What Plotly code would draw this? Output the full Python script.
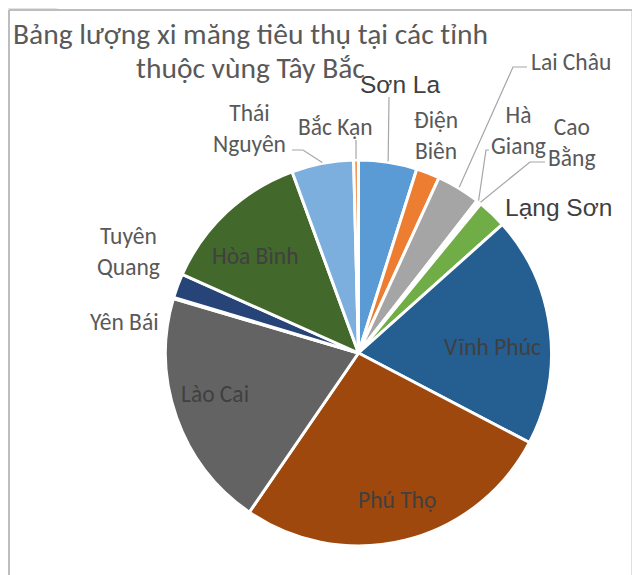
import math
import plotly.graph_objects as go

# data (clockwise from 12 o'clock)
provinces = ["Sơn La", "Điện Biên", "Lai Châu", "Hà Giang", "Cao Bằng", "Lạng Sơn",
             "Vĩnh Phúc", "Phú Thọ", "Lào Cai", "Yên Bái", "Tuyên Quang", "Hòa Bình",
             "Thái Nguyên", "Bắc Kạn"]
consumption = [485, 195, 365, 20, 20, 245, 1915, 2670, 1985, 10, 200, 1265, 515, 40]
colors = ["#5B9BD5", "#ED7D31", "#A5A5A5", "#FFC000", "#4472C4", "#70AD47",
          "#255E91", "#9E480E", "#636363", "#997300", "#264478", "#43682B",
          "#7CAFDD", "#F1975A"]

# the page body has an 8px margin, so the figure is drawn 8px in from the corner
OFF = 8
W, H = 640 - OFF, 575 - OFF
CX, CY, R = 358.5, 353, 193

def px(x):
    return (x - OFF) / W

def py(y):
    return 1 - (y - OFF) / H

# mid angle of each slice (degrees clockwise from top)
total = sum(consumption)
mid = {}
acc = 0
for name, v in zip(provinces, consumption):
    mid[name] = (acc + v / 2) / total * 360
    acc += v

def edge(name, r=R + 1):
    a = math.radians(mid[name])
    return CX + r * math.sin(a), CY - r * math.cos(a)

fig = go.Figure(go.Pie(
    labels=provinces,
    values=consumption,
    sort=False,
    direction="clockwise",
    rotation=0,
    marker=dict(colors=colors, line=dict(color="white", width=3)),
    textinfo="none",
    hoverinfo="label+value+percent",
    domain=dict(x=[px(CX - R), px(CX + R)], y=[py(CY + R), py(CY - R)]),
    showlegend=False,
))

font = "Carlito, Lato, sans-serif"
gray = "#595959"
dark = "#404040"
LS = 23.5

# label placement: (text, x, y, size, colour, family)
labels = [
    ("Sơn La", 400, 84, 24.5, dark, "Liberation Sans, Arial"),
    ("Lạng Sơn", 558, 207, 24.5, dark, "Liberation Sans, Arial"),
    ("Điện<br>Biên", 436, 135, LS, gray, font),
    ("Lai Châu", 571, 62, LS, gray, font),
    ("Hà<br>Giang", 518, 130, LS, gray, font),
    ("Cao<br>Bằng", 571, 142, LS, gray, font),
    ("Thái<br>Nguyên", 249, 129, LS, gray, font),
    ("Bắc Kạn", 335, 127, LS, gray, font),
    ("Tuyên<br>Quang", 128, 251, LS, gray, font),
    ("Yên Bái", 124, 322, LS, gray, font),
    ("Hòa Bình", 255, 256, LS, dark, font),
    ("Vĩnh Phúc", 492, 347, LS, dark, font),
    ("Lào Cai", 215, 394, LS, dark, font),
    ("Phú Thọ", 397, 500, LS, dark, font),
]

annotations = [
    dict(text=t, x=px(x), y=py(y), xref="paper", yref="paper", showarrow=False,
         xanchor="center", yanchor="middle", align="center",
         font=dict(size=s, color=c, family=f))
    for t, x, y, s, c, f in labels
]
for line, y in [("Bảng lượng xi măng tiêu thụ tại các tỉnh", 34),
                ("thuộc vùng Tây Bắc", 68)]:
    annotations.append(dict(
        text=line, x=px(250), y=py(y), xref="paper", yref="paper", showarrow=False,
        xanchor="center", yanchor="middle", align="center",
        font=dict(size=29.5, color=gray, family=font)))

# leader lines: slice edge -> elbow near the label
leaders = [
    ("Sơn La", [(389, 97)]),
    ("Lai Châu", [(513, 67), (527, 67)]),
    ("Hà Giang", [(486, 150), (489, 150)]),
    ("Cao Bằng", [(530, 162), (545, 162)]),
    ("Thái Nguyên", [(303, 150), (292, 150)]),
    ("Bắc Kạn", [(356, 140)]),
]
shapes = []
for name, pts in leaders:
    x0, y0 = edge(name)
    path = f"M {px(x0)} {py(y0)} " + " ".join(f"L {px(a)} {py(b)}" for a, b in pts)
    shapes.append(dict(type="path", path=path, xref="paper", yref="paper",
                       line=dict(color="#a6a6a6", width=1.2)))

# chart frame (top-left tab and the border lines)
frame = "#bdbdbd"
shapes += [
    dict(type="path", xref="paper", yref="paper",
         path=f"M {px(8)} {py(8)} L {px(55)} {py(8)} L {px(63)} {py(9.5)} L {px(8)} {py(9.5)} Z",
         fillcolor="#e3e3e3", line=dict(width=0)),
    dict(type="line", xref="paper", yref="paper", x0=px(9), x1=px(9), y0=0, y1=py(10),
         line=dict(color=frame, width=2)),
    dict(type="line", xref="paper", yref="paper", x0=px(9), x1=px(632.5), y0=py(10), y1=py(10),
         line=dict(color=frame, width=2)),
    dict(type="line", xref="paper", yref="paper", x0=px(632.5), x1=px(632.5), y0=0, y1=py(10),
         line=dict(color=frame, width=2)),
]

fig.update_layout(
    width=W, height=H,
    margin=dict(l=0, r=0, t=0, b=0),
    paper_bgcolor="white",
    plot_bgcolor="white",
    annotations=annotations,
    shapes=shapes,
)

fig.write_html("out.html")
